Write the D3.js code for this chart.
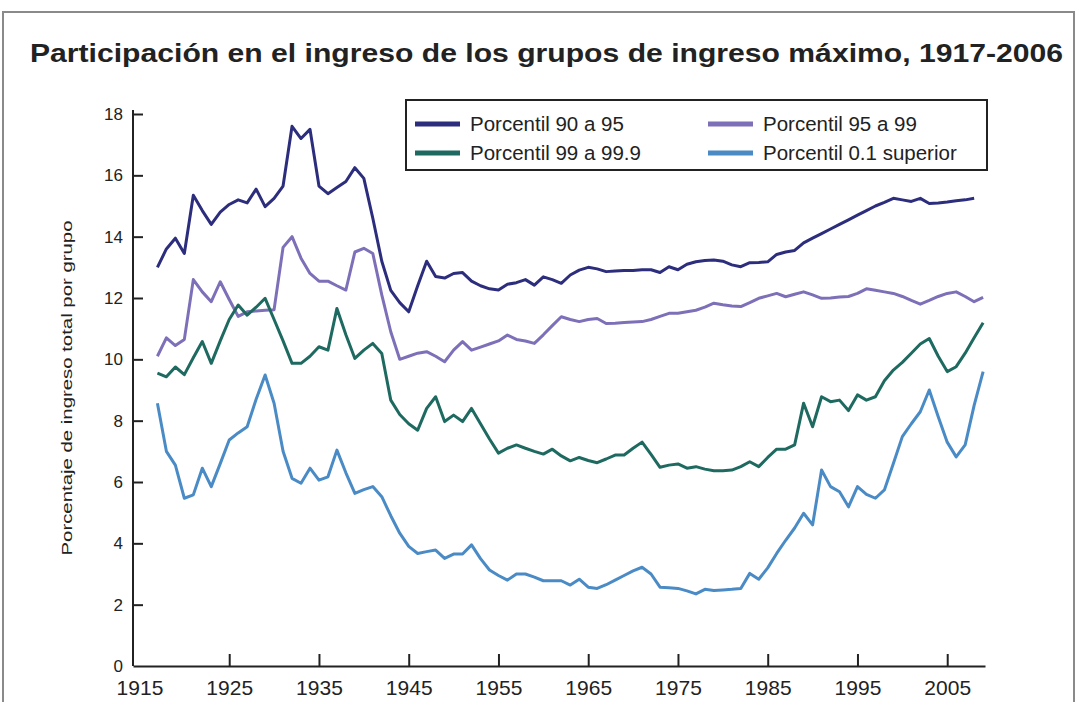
<!DOCTYPE html>
<html>
<head>
  <meta charset="utf-8">
  <title>Participación en el ingreso</title>
  <script src="https://d3js.org/d3.v7.min.js"></script>
  <style>
    body { margin: 0; background: #fff; }
    text { font-family: "Liberation Sans", Arial, sans-serif; fill: #222; }
  </style>
</head>
<body>
  <div id="chart"></div>
  <script>
  const title = "Participación en el ingreso de los grupos de ingreso máximo, 1917-2006";
  const yLabel = "Porcentaje de ingreso total por grupo";
  const xTicks = [1915, 1925, 1935, 1945, 1955, 1965, 1975, 1985, 1995, 2005];
  const yTicks = [0, 2, 4, 6, 8, 10, 12, 14, 16, 18];
  const firstYear = 1917;

  const seriesNames = ["Porcentil 90 a 95", "Porcentil 95 a 99", "Porcentil 99 a 99.9", "Porcentil 0.1 superior"];

  // 1917-2008
  const p90to95 = [
    13.0, 13.6, 13.95, 13.45, 15.35, 14.85, 14.4, 14.8, 15.05, 15.2,
    15.1, 15.55, 14.98, 15.25, 15.65, 17.6, 17.2, 17.5, 15.65, 15.4,
    15.6, 15.8, 16.25, 15.9, 14.6, 13.2, 12.25, 11.85, 11.55, 12.4,
    13.2, 12.7, 12.65, 12.8, 12.83, 12.55, 12.4, 12.3, 12.26, 12.45,
    12.5, 12.6, 12.42, 12.69, 12.6, 12.48, 12.75, 12.91, 13.0, 12.95,
    12.86, 12.88, 12.9, 12.9, 12.92, 12.92, 12.83, 13.02, 12.92, 13.1,
    13.18, 13.22, 13.24, 13.2, 13.08, 13.02, 13.15, 13.16, 13.18, 13.42,
    13.5, 13.55, 13.8, 13.95, 14.1, 14.25, 14.4, 14.55, 14.7, 14.85,
    15.0, 15.12, 15.25, 15.2, 15.15, 15.25, 15.08, 15.1, 15.13, 15.17,
    15.2, 15.25
  ];
  // 1917-2009
  const p95to99 = [
    10.1, 10.7, 10.45, 10.65, 12.6, 12.2, 11.88, 12.53, 11.95, 11.4,
    11.55, 11.58, 11.6, 11.62, 13.65, 14.0, 13.3, 12.8, 12.55, 12.55,
    12.4, 12.26, 13.5, 13.62, 13.45, 12.1, 10.9, 10.0, 10.1, 10.2,
    10.25, 10.1, 9.92, 10.3, 10.58, 10.3, 10.4, 10.5, 10.6, 10.79,
    10.65, 10.6, 10.52, 10.8, 11.1, 11.39, 11.3, 11.23, 11.3, 11.33,
    11.17, 11.18, 11.2, 11.22, 11.23, 11.3, 11.4, 11.5, 11.5, 11.55,
    11.6, 11.7, 11.83, 11.78, 11.74, 11.72, 11.85, 11.99, 12.07, 12.15,
    12.04, 12.12, 12.2, 12.1, 11.99, 12.0, 12.03, 12.05, 12.15, 12.3,
    12.25, 12.2, 12.15, 12.05, 11.92, 11.8, 11.92, 12.05, 12.15, 12.2,
    12.05, 11.88, 12.02
  ];
  const p99to999 = [
    9.55, 9.43, 9.75, 9.5, 10.05, 10.58, 9.87, 10.6, 11.3, 11.77,
    11.44, 11.7, 11.99, 11.3, 10.6, 9.87, 9.87, 10.1, 10.41, 10.3,
    11.66, 10.8, 10.03, 10.3, 10.52, 10.19, 8.67, 8.2, 7.9, 7.69,
    8.4, 8.78, 7.97, 8.18, 7.97, 8.4, 7.9, 7.4, 6.94, 7.1,
    7.21, 7.1, 7.0, 6.91, 7.07, 6.85, 6.69, 6.8, 6.7, 6.63,
    6.75, 6.88, 6.88, 7.1, 7.3, 6.9, 6.48, 6.55, 6.59, 6.45,
    6.5, 6.42, 6.37, 6.37, 6.39, 6.5, 6.66, 6.5, 6.8, 7.07,
    7.07, 7.21, 8.57, 7.8, 8.78, 8.62, 8.67, 8.33, 8.84, 8.67,
    8.78, 9.3, 9.65, 9.9, 10.2, 10.5, 10.68, 10.1, 9.6, 9.76,
    10.2, 10.7, 11.19
  ];
  const top01 = [
    8.57, 7.0, 6.55, 5.47, 5.58, 6.45, 5.85, 6.6, 7.37, 7.6,
    7.8, 8.7, 9.49, 8.57, 7.0, 6.12, 5.96, 6.45, 6.06, 6.17,
    7.04, 6.3, 5.63, 5.75, 5.85, 5.52, 4.9, 4.33, 3.9, 3.67,
    3.73, 3.78, 3.51, 3.65, 3.65, 3.95, 3.5, 3.13, 2.95, 2.8,
    3.0, 3.0, 2.9, 2.78, 2.78, 2.78, 2.64, 2.83, 2.57, 2.53,
    2.65, 2.8, 2.95, 3.1, 3.22, 3.0, 2.57, 2.55, 2.53, 2.45,
    2.35, 2.5, 2.46, 2.48, 2.5, 2.53, 3.02, 2.83, 3.2, 3.67,
    4.1, 4.5, 4.98, 4.6, 6.39, 5.85, 5.68, 5.19, 5.85, 5.6,
    5.47, 5.74, 6.6, 7.48, 7.9, 8.29, 9.0, 8.13, 7.3, 6.82,
    7.21, 8.5, 9.6
  ];

  const colors = ["#2c2d7c", "#7e70b8", "#1e6a60", "#4a8bc6"];
  const allSeries = [p90to95, p95to99, p99to999, top01];

  const W = 1077, H = 702;
  const svg = d3.select("#chart").append("svg")
    .attr("width", W).attr("height", H);

  // outer frame
  svg.append("rect")
    .attr("x", 3).attr("y", 12).attr("width", 1071).attr("height", 720)
    .attr("fill", "none").attr("stroke", "#8a8a8a").attr("stroke-width", 2);

  svg.append("text")
    .attr("x", 30).attr("y", 62)
    .attr("font-size", 26).attr("font-weight", "bold")
    .attr("textLength", 1033).attr("lengthAdjust", "spacingAndGlyphs")
    .text(title);

  const x = d3.scaleLinear().domain([1914.28, 2009.21]).range([133, 985]);
  const y = d3.scaleLinear().domain([0, 18]).range([666, 114]);

  // x axis
  const xAxis = svg.append("g")
    .attr("transform", "translate(0,666)")
    .call(d3.axisBottom(x).tickValues(xTicks).tickFormat(d3.format("d"))
      .tickSizeInner(-12).tickSizeOuter(0).tickPadding(14));
  xAxis.select(".domain").attr("stroke", "#222").attr("stroke-width", 2);
  xAxis.selectAll(".tick line").attr("stroke", "#222").attr("stroke-width", 2)
    .filter(d => d === 1915).remove();
  xAxis.selectAll(".tick text").attr("font-size", 21).attr("fill", "#222")
    .attr("font-family", "Liberation Sans, Arial, sans-serif");

  // y axis
  const yAxis = svg.append("g")
    .attr("transform", "translate(133,0)")
    .call(d3.axisLeft(y).tickValues(yTicks)
      .tickSizeInner(-10).tickSizeOuter(0).tickPadding(10));
  yAxis.select(".domain").attr("stroke", "#222").attr("stroke-width", 2)
    .attr("d", `M0,${y(0)}V${y(18) - 4}`);
  yAxis.selectAll(".tick line").attr("stroke", "#222").attr("stroke-width", 2)
    .filter(d => d === 0).remove();
  yAxis.selectAll(".tick text").attr("font-size", 17).attr("fill", "#222")
    .attr("font-family", "Liberation Sans, Arial, sans-serif");

  svg.append("text")
    .attr("transform", "translate(72,388) rotate(-90)")
    .attr("text-anchor", "middle")
    .attr("font-size", 15)
    .attr("textLength", 335).attr("lengthAdjust", "spacingAndGlyphs")
    .text(yLabel);

  // lines
  const line = d3.line()
    .x((d, i) => x(firstYear + i))
    .y(d => y(d));

  allSeries.forEach((vals, k) => {
    svg.append("path")
      .datum(vals)
      .attr("fill", "none")
      .attr("stroke", colors[k])
      .attr("stroke-width", 3)
      .attr("stroke-linejoin", "round")
      .attr("d", line);
  });

  // legend
  const lg = svg.append("g");
  lg.append("rect")
    .attr("x", 406).attr("y", 100).attr("width", 581).attr("height", 70)
    .attr("fill", "#fff").attr("stroke", "#222").attr("stroke-width", 2);
  const legendPos = [[415, 124], [708, 124], [415, 153], [708, 153]];
  seriesNames.forEach((name, k) => {
    const [lx, ly] = legendPos[k];
    lg.append("line")
      .attr("x1", lx).attr("x2", lx + 45).attr("y1", ly).attr("y2", ly)
      .attr("stroke", colors[k]).attr("stroke-width", 5);
    lg.append("text")
      .attr("x", lx + 55).attr("y", ly + 7)
      .attr("font-size", 20.5)
      .text(name);
  });
  </script>
</body>
</html>
